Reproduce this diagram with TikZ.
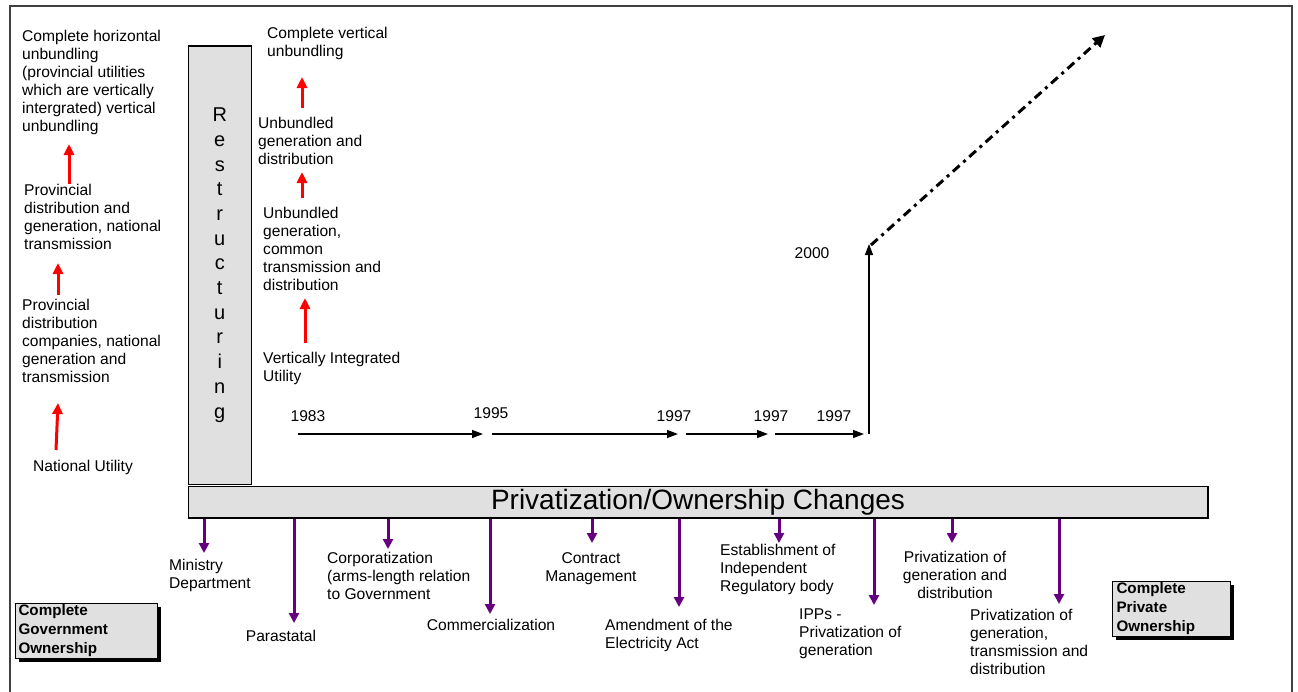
\documentclass[tikz,border=0pt]{standalone}
\usepackage{fontspec}
\setmainfont{Liberation Sans}
\usetikzlibrary{arrows.meta,shadows}
\definecolor{boxgray}{RGB}{224,224,224}
\definecolor{purp}{RGB}{102,0,128}
\definecolor{framegray}{RGB}{64,64,64}
\begin{document}
\begin{tikzpicture}[x=1pt,y=-1pt,
  lbl/.style={font=\fontsize{15.6}{18}\selectfont, inner sep=0pt, align=left, anchor=north west},
  lblc/.style={font=\fontsize{15.6}{18}\selectfont, inner sep=0pt, align=center, anchor=north},
  yr/.style={font=\fontsize{15.6}{18}\selectfont, inner sep=0pt},
  redarr/.style={red, line width=3pt, -{Triangle[width=10pt,length=11pt]}},
  tlarr/.style={black, line width=1.4pt, -{Triangle[width=8pt,length=11pt]}},
  purarr/.style={purp, line width=3pt, -{Triangle[width=10pt,length=10pt]}},
  ownbox/.style={draw=black, line width=1pt, fill=boxgray, inner ysep=0pt, align=left,
    anchor=north west, font=\bfseries\fontsize{15.2}{19}\selectfont,
    drop shadow={shadow xshift=3.5pt, shadow yshift=-3.5pt, fill=black, opacity=1}}
]
\useasboundingbox (0,0) rectangle (1298,691);
% outer frame
\draw[framegray, line width=2pt] (9.5,5.5) rectangle (1291.5,720);

% bars
\node[draw=black, line width=1.5pt, fill=boxgray, minimum width=1019.5pt, minimum height=31.5pt,
  inner sep=0pt, anchor=north west, font=\fontsize{28}{30}\selectfont] (pbar) at (187.5,485.5)
  {Privatization/Ownership Changes};
\node[draw=black, line width=1.5pt, fill=boxgray, minimum width=63pt, minimum height=438.5pt,
  inner sep=0pt, anchor=north west, align=center, font=\fontsize{20}{24.7}\selectfont] (restr) at (187.5,45)
  {R\\e\\s\\t\\r\\u\\c\\t\\u\\r\\i\\n\\g};

% left column
\node[lbl] (l1) at (22,30) {Complete horizontal\\unbundling\\(provincial utilities\\which are vertically\\intergrated) vertical\\unbundling};
\node[lbl] (l2) at (24,184) {Provincial\\distribution and\\generation, national\\transmission};
\node[lbl] (l3) at (22,299) {Provincial\\distribution\\companies, national\\generation and\\transmission};
\node[yr] (l4) at (83,467) {National Utility};
\coordinate (ra1s) at (69,184); \coordinate (ra1e) at (69,144);
\coordinate (ra2s) at (58,295); \coordinate (ra2e) at (58,263);
\coordinate (ra3s) at (56,450); \coordinate (ra3e) at (58,403);
\draw[redarr] (ra1s) -- (ra1e);
\draw[redarr] (ra2s) -- (ra2e);
\draw[redarr] (ra3s) -- (ra3e);

% middle column
\node[lbl] (m1) at (267,27) {Complete vertical\\unbundling};
\node[lbl] (m2) at (258,117) {Unbundled\\generation and\\distribution};
\node[lbl] (m3) at (263,207) {Unbundled\\generation,\\common\\transmission and\\distribution};
\node[lbl] (m4) at (263,352) {Vertically Integrated\\Utility};
\coordinate (rb1s) at (302,108); \coordinate (rb1e) at (302,77);
\coordinate (rb2s) at (302,198); \coordinate (rb2e) at (302,172);
\coordinate (rb3s) at (305,343); \coordinate (rb3e) at (305,298);
\draw[redarr] (rb1s) -- (rb1e);
\draw[redarr] (rb2s) -- (rb2e);
\draw[redarr] (rb3s) -- (rb3e);

% timeline
\node[yr] (y83) at (308,416) {1983};
\node[yr] (y95) at (491,413) {1995};
\node[yr] (y97a) at (674,416) {1997};
\node[yr] (y97b) at (771,416) {1997};
\node[yr] (y97c) at (834,416) {1997};
\node[yr] (y00) at (812,253) {2000};
\coordinate (t0) at (298,434); \coordinate (t1) at (483,434);
\coordinate (t2) at (492,434); \coordinate (t3) at (678,434);
\coordinate (t4) at (686,434); \coordinate (t5) at (768,434);
\coordinate (t6) at (775,434); \coordinate (t7) at (864,434);
\coordinate (v0) at (869,434); \coordinate (v1) at (869,244);
\coordinate (d0) at (871,245); \coordinate (d1) at (1105,35);
\draw[tlarr] (t0) -- (t1);
\draw[tlarr] (t2) -- (t3);
\draw[tlarr] (t4) -- (t5);
\draw[tlarr] (t6) -- (t7);
\draw[tlarr] (v0) -- (v1);
\draw[black, line width=3pt, dash pattern=on 9pt off 5pt on 3pt off 5pt,
  -{Triangle[width=12pt,length=12pt]}] (d0) -- (d1);

% privatization arrows
\coordinate (p1) at (204,553);
\coordinate (p2) at (294,623);
\coordinate (p3) at (388,549);
\coordinate (p4) at (490,614);
\coordinate (p5) at (592,543);
\coordinate (p6) at (679,607);
\coordinate (p7) at (779,543);
\coordinate (p8) at (874,605);
\coordinate (p9) at (952,543);
\coordinate (p10) at (1059,604);
\foreach \p in {p1,p2,p3,p4,p5,p6,p7,p8,p9,p10}
  \draw[purarr] (pbar.south -| \p) -- (\p);

% privatization labels
\node[lbl] (b1) at (169,559) {Ministry\\Department};
\node[yr] (b2) at (281,636) {Parastatal};
\node[lbl] (b3) at (327,552) {Corporatization\\(arms-length relation\\to Government};
\node[yr] (b4) at (491,625) {Commercialization};
\node[lblc] (b5) at (591,552) {Contract\\Management};
\node[lbl] (b6) at (605,619) {Amendment of the\\Electricity Act};
\node[lbl] (b7) at (720,544) {Establishment of\\Independent\\Regulatory body};
\node[lbl] (b8) at (799,609) {IPPs -\\Privatization of\\generation};
\node[lblc] (b9) at (955,551) {Privatization of\\generation and\\distribution};
\node[lbl] (b10) at (970,609) {Privatization of\\generation,\\transmission and\\distribution};

% ownership boxes
\node[ownbox, text width=136pt, inner xsep=3pt, minimum height=55pt] (gov) at (15,603)
  {Complete\\Government\\Ownership};
\node[ownbox, text width=110pt, inner xsep=4pt, minimum height=55pt] (priv) at (1112,581)
  {Complete\\Private\\Ownership};
\end{tikzpicture}
\end{document}
